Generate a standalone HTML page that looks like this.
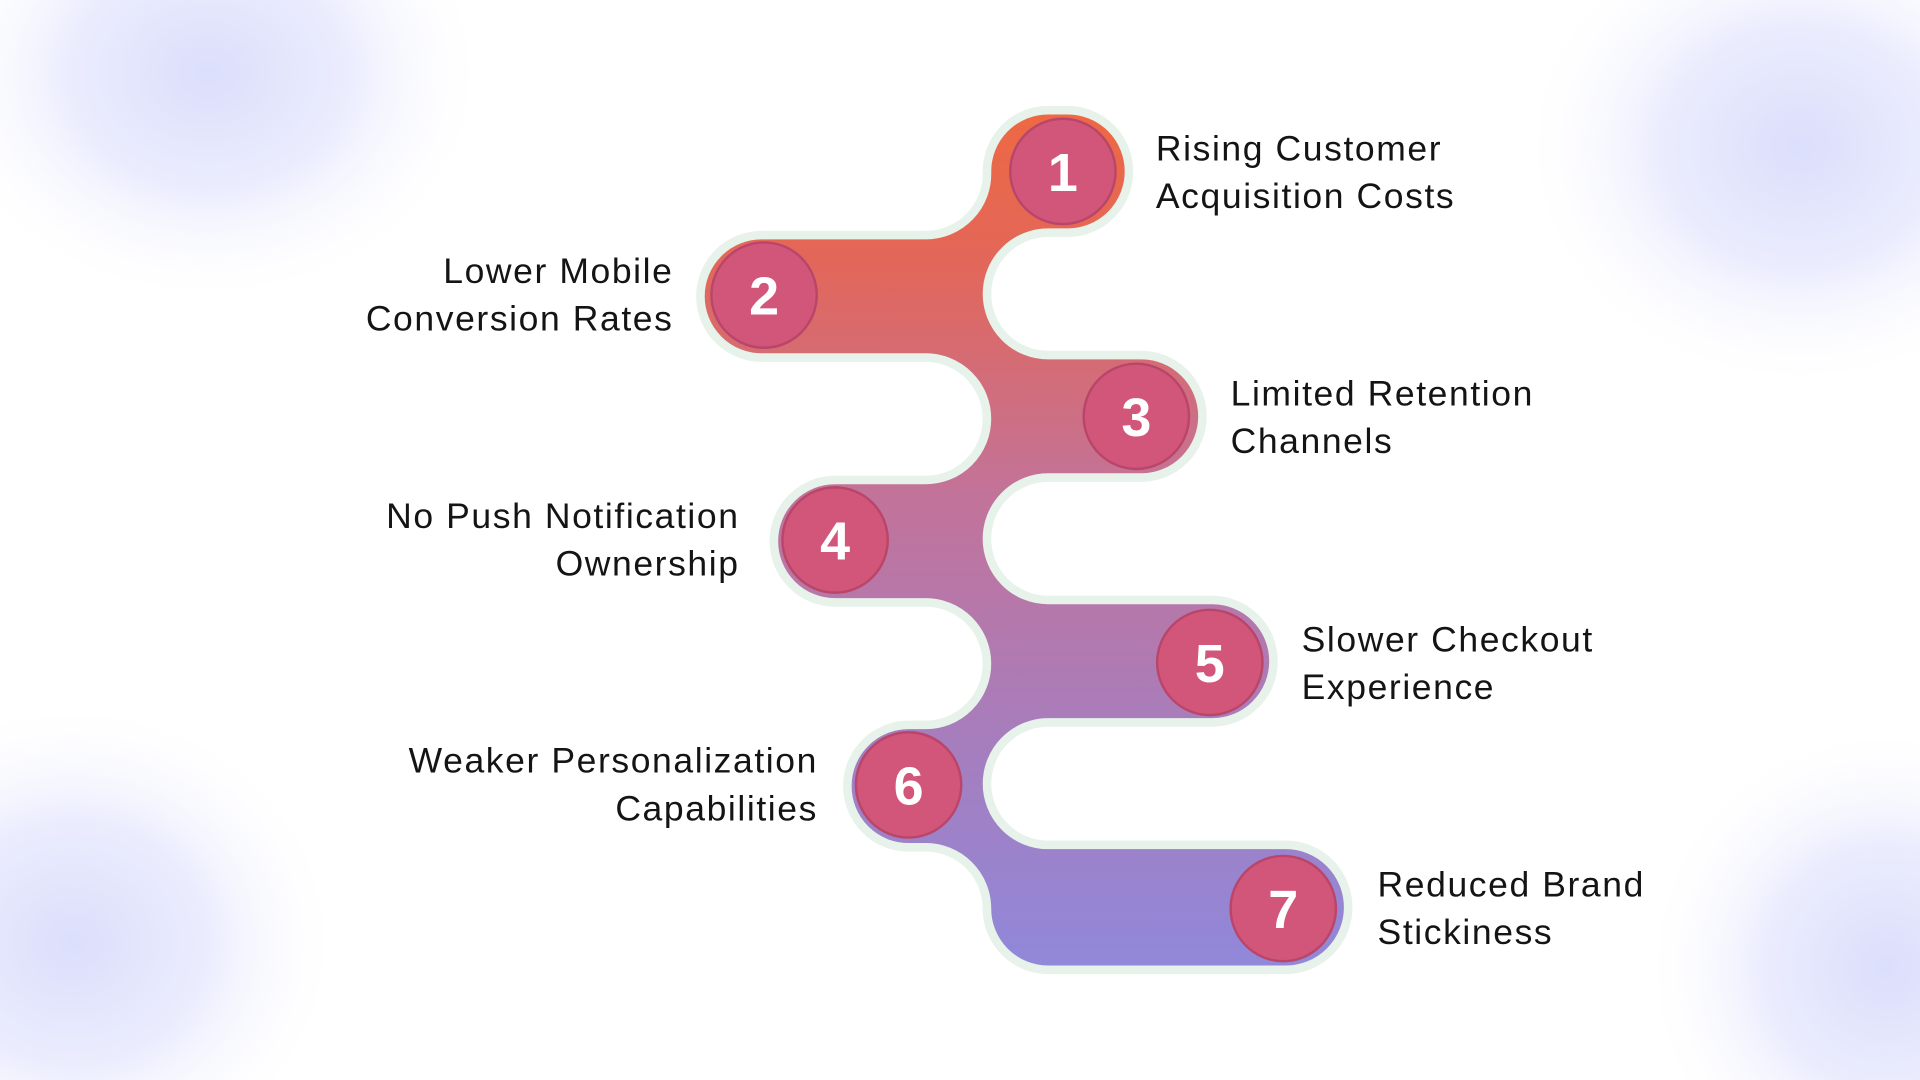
<!DOCTYPE html>
<html><head><meta charset="utf-8"><style>
html,body{margin:0;padding:0;width:1920px;height:1080px;overflow:hidden;background:#fff}
svg{display:block;position:absolute;left:0;top:0}
text{font-family:"Liberation Sans",sans-serif}
</style></head><body>
<svg width="1920" height="1080" viewBox="0 0 1568 882" xmlns="http://www.w3.org/2000/svg">
<defs>
<radialGradient id="b1" cx="0.5" cy="0.5" r="0.5"><stop offset="0" stop-color="#d3d6fb"/><stop offset="0.5" stop-color="#e6e8fd"/><stop offset="1" stop-color="#fff" stop-opacity="0"/></radialGradient>
<linearGradient id="g" x1="0" y1="90" x2="0" y2="792" gradientUnits="userSpaceOnUse">
<stop offset="0" stop-color="#ee6842"/><stop offset="0.18" stop-color="#e2675a"/><stop offset="0.45" stop-color="#c2739a"/><stop offset="0.75" stop-color="#a57ebf"/><stop offset="1" stop-color="#9088da"/></linearGradient>
</defs>
<rect width="1568" height="882" fill="#fff"/>
<g opacity="0.8">
<ellipse cx="170" cy="60" rx="230" ry="190" fill="url(#b1)"/>
<ellipse cx="1470" cy="120" rx="230" ry="200" fill="url(#b1)"/>
<ellipse cx="60" cy="770" rx="220" ry="200" fill="url(#b1)"/>
<ellipse cx="1540" cy="790" rx="200" ry="200" fill="url(#b1)"/>
</g>
<path d="M856,90 H872 A50,50 0 0 1 872,190 H856 A50,50 0 0 0 856,290 H932 A50,50 0 0 1 932,390 H856 A50,50 0 0 0 856,490 H990 A50,50 0 0 1 990,590 H856 A50,50 0 0 0 856,690 H1050 A50,50 0 0 1 1050,792 H856 A50,50 0 0 1 806,742 A50,50 0 0 0 756,692 H742 A50,50 0 0 1 742,592 H756 A50,50 0 0 0 756,492 H682 A50,50 0 0 1 682,392 H756 A50,50 0 0 0 756,292 H622 A50,50 0 0 1 622,192 H756 A50,50 0 0 0 806,140 A50,50 0 0 1 856,90 Z" fill="url(#g)" stroke="#e6f2ea" stroke-width="7"/>
<g fill="#d1567a" stroke="#b9466a" stroke-width="2">
<circle cx="868" cy="140" r="43"/><circle cx="624" cy="241" r="43"/><circle cx="928" cy="340" r="43"/><circle cx="682" cy="441" r="43"/><circle cx="988" cy="541" r="43"/><circle cx="742" cy="641" r="43"/><circle cx="1048" cy="742" r="43"/>
</g>
<g fill="#fff" font-size="44" font-weight="bold" text-anchor="middle">
<text x="868" y="156">1</text><text x="624" y="257">2</text><text x="928" y="356">3</text><text x="682" y="457">4</text><text x="988" y="557">5</text><text x="742" y="657">6</text><text x="1048" y="758">7</text>
</g>
<g fill="#141414" font-size="29" letter-spacing="1.3">
<text x="944" y="131">Rising Customer</text><text x="944" y="170">Acquisition Costs</text>
<text x="1005" y="331">Limited Retention</text><text x="1005" y="370">Channels</text>
<text x="1063" y="532">Slower Checkout</text><text x="1063" y="571">Experience</text>
<text x="1125" y="732">Reduced Brand</text><text x="1125" y="771">Stickiness</text>
<g text-anchor="end">
<text x="550" y="231">Lower Mobile</text><text x="550" y="270">Conversion Rates</text>
<text x="604" y="431">No Push Notification</text><text x="604" y="470">Ownership</text>
<text x="668" y="631">Weaker Personalization</text><text x="668" y="670">Capabilities</text>
</g></g>
</svg>
</body></html>
